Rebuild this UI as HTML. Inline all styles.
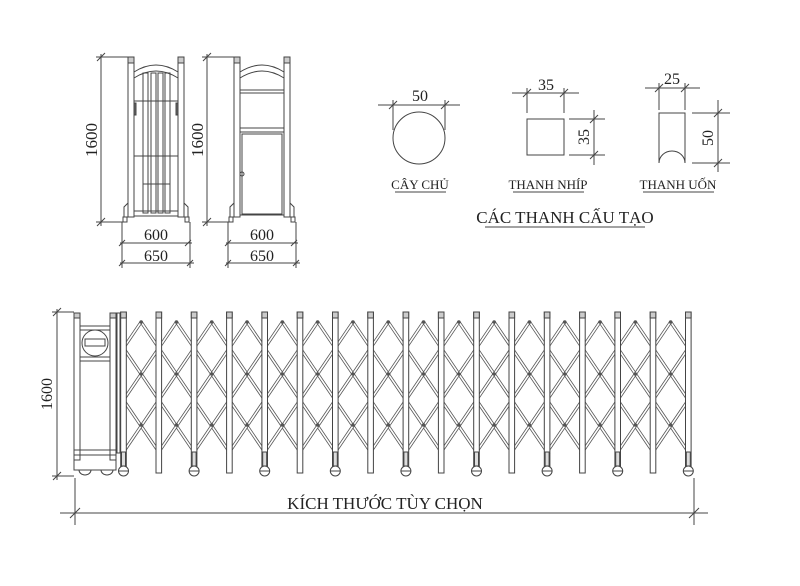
<!DOCTYPE html>
<html><head><meta charset="utf-8"><style>
html,body{margin:0;padding:0;background:#fff}
svg{display:block}
text{font-family:"Liberation Serif",serif;fill:#222}
</style></head><body>
<svg id="s" width="800" height="586" viewBox="0 0 800 586" xmlns="http://www.w3.org/2000/svg" stroke="#444" fill="none" stroke-width="1">
<defs><clipPath id="lc"><rect x="122" y="318" width="568" height="136"/></clipPath></defs>
<g>
<line x1="101" y1="54" x2="101" y2="226"/><line x1="96" y1="57" x2="130" y2="57"/><line x1="96" y1="222" x2="125" y2="222"/>
<line x1="97" y1="61" x2="105" y2="53"/><line x1="97" y1="226" x2="105" y2="218"/>
<text x="97" y="140" font-size="17" transform="rotate(-90 97 140)" text-anchor="middle" stroke="none">1600</text>
<rect x="128" y="57" width="6" height="160"/><rect x="178" y="57" width="6" height="160"/>
<rect x="128" y="57" width="6" height="6" fill="#ccc"/><rect x="178" y="57" width="6" height="6" fill="#ccc"/>
<path d="M134 72 Q156 58 178 72 M134 78 Q156 64 178 78"/>
<rect x="143" y="73" width="5" height="140"/><rect x="151" y="73" width="5" height="140"/><rect x="158" y="73" width="5" height="140"/><rect x="165" y="73" width="5" height="140"/>
<line x1="134" y1="101" x2="178" y2="101"/><line x1="134" y1="156" x2="178" y2="156"/><line x1="143" y1="184" x2="170" y2="184"/><line x1="134" y1="211" x2="178" y2="211"/><line x1="134" y1="216" x2="178" y2="216"/>
<rect x="134" y="103" width="2" height="12" fill="#666"/><rect x="176" y="103" width="2" height="12" fill="#666"/>
<path d="M128 203 L124 207 L124 217 L128 217 M184 203 L188 207 L188 217 L184 217"/>
<rect x="123" y="217" width="4" height="5"/><rect x="185" y="217" width="4" height="5"/>
<line x1="122" y1="222" x2="122" y2="268"/><line x1="190" y1="222" x2="190" y2="268"/>
<line x1="120" y1="243" x2="192" y2="243"/><line x1="120" y1="263" x2="194" y2="263"/>
<line x1="119" y1="246" x2="125" y2="240"/><line x1="185" y1="246" x2="191" y2="240"/>
<line x1="119" y1="266" x2="125" y2="260"/><line x1="187" y1="266" x2="193" y2="260"/>
<text x="156" y="240" font-size="16" text-anchor="middle" stroke="none">600</text>
<text x="156" y="261" font-size="16" text-anchor="middle" stroke="none">650</text>
</g>
<g>
<line x1="207" y1="54" x2="207" y2="226"/><line x1="202" y1="57" x2="236" y2="57"/><line x1="202" y1="222" x2="231" y2="222"/>
<line x1="203" y1="61" x2="211" y2="53"/><line x1="203" y1="226" x2="211" y2="218"/>
<text x="203" y="140" font-size="17" transform="rotate(-90 203 140)" text-anchor="middle" stroke="none">1600</text>
<rect x="234" y="57" width="6" height="160"/><rect x="284" y="57" width="6" height="160"/>
<rect x="234" y="57" width="6" height="6" fill="#ccc"/><rect x="284" y="57" width="6" height="6" fill="#ccc"/>
<path d="M240 72 Q262 58 284 72 M240 78 Q262 64 284 78"/>
<path d="M240 90 H284 M240 93 H284 M240 128 H284 M240 132 H284 M240 215 H284"/>
<rect x="242" y="134" width="40" height="80"/>
<circle cx="242" cy="174" r="2"/>
<path d="M234 203 L230 207 L230 217 L234 217 M290 203 L294 207 L294 217 L290 217"/>
<rect x="229" y="217" width="4" height="5"/><rect x="291" y="217" width="4" height="5"/>
<line x1="228" y1="222" x2="228" y2="268"/><line x1="296" y1="222" x2="296" y2="268"/>
<line x1="226" y1="243" x2="298" y2="243"/><line x1="226" y1="263" x2="300" y2="263"/>
<line x1="225" y1="246" x2="231" y2="240"/><line x1="291" y1="246" x2="297" y2="240"/>
<line x1="225" y1="266" x2="231" y2="260"/><line x1="293" y1="266" x2="299" y2="260"/>
<text x="262" y="240" font-size="16" text-anchor="middle" stroke="none">600</text>
<text x="262" y="261" font-size="16" text-anchor="middle" stroke="none">650</text>
</g>
<g>
<line x1="378" y1="105" x2="460" y2="105"/><line x1="393" y1="100" x2="393" y2="130"/><line x1="445" y1="100" x2="445" y2="130"/>
<line x1="389" y1="109" x2="397" y2="101"/><line x1="441" y1="109" x2="449" y2="101"/>
<text x="420" y="101" font-size="16" text-anchor="middle" stroke="none">50</text>
<circle cx="419" cy="138" r="26"/>
<text x="420" y="189" font-size="13" text-anchor="middle" stroke="none">CÂY CHỦ</text><line x1="395" y1="192" x2="446" y2="192"/>
<line x1="512" y1="93" x2="579" y2="93"/><line x1="527" y1="88" x2="527" y2="113"/><line x1="564" y1="88" x2="564" y2="113"/>
<line x1="523" y1="97" x2="531" y2="89"/><line x1="560" y1="97" x2="568" y2="89"/>
<text x="546" y="90" font-size="16" text-anchor="middle" stroke="none">35</text>
<rect x="527" y="119" width="37" height="36"/>
<line x1="569" y1="119" x2="605" y2="119"/><line x1="569" y1="155" x2="605" y2="155"/><line x1="594" y1="110" x2="594" y2="165"/>
<line x1="590" y1="123" x2="598" y2="115"/><line x1="590" y1="159" x2="598" y2="151"/>
<text x="589" y="137" font-size="16" transform="rotate(-90 589 137)" text-anchor="middle" stroke="none">35</text>
<text x="548" y="189" font-size="13" text-anchor="middle" stroke="none">THANH NHÍP</text><line x1="513" y1="192" x2="584" y2="192"/>
<line x1="645" y1="88" x2="700" y2="88"/><line x1="659" y1="83" x2="659" y2="110"/><line x1="685" y1="83" x2="685" y2="110"/>
<line x1="655" y1="92" x2="663" y2="84"/><line x1="681" y1="92" x2="689" y2="84"/>
<text x="672" y="84" font-size="16" text-anchor="middle" stroke="none">25</text>
<path d="M659 113 H685 V163 A13 12 0 0 0 659 163 Z"/>
<line x1="692" y1="113" x2="730" y2="113"/><line x1="692" y1="163" x2="730" y2="163"/><line x1="718" y1="100" x2="718" y2="172"/>
<line x1="714" y1="117" x2="722" y2="109"/><line x1="714" y1="167" x2="722" y2="159"/>
<text x="713" y="138" font-size="16" transform="rotate(-90 713 138)" text-anchor="middle" stroke="none">50</text>
<text x="678" y="189" font-size="13" text-anchor="middle" stroke="none">THANH UỐN</text><line x1="643" y1="192" x2="714" y2="192"/>
<text x="565" y="223" font-size="17" text-anchor="middle" stroke="none">CÁC THANH CẤU TẠO</text><line x1="485" y1="227" x2="645" y2="227"/>
</g>
<g id="gate">
<line x1="57" y1="309" x2="57" y2="480"/><line x1="52" y1="312" x2="74" y2="312"/><line x1="52" y1="476" x2="74" y2="476"/>
<line x1="53" y1="316" x2="61" y2="308"/><line x1="53" y1="480" x2="61" y2="472"/>
<text x="52" y="394" font-size="16" transform="rotate(-90 52 394)" text-anchor="middle" stroke="none">1600</text>
<rect x="74" y="313" width="6" height="147"/><rect x="110" y="313" width="6" height="147"/>
<rect x="74" y="313" width="6" height="5" fill="#ccc"/><rect x="110" y="313" width="6" height="5" fill="#ccc"/>
<rect x="80" y="326" width="30" height="124"/><line x1="80" y1="330" x2="110" y2="330"/><line x1="80" y1="357" x2="110" y2="357"/><line x1="80" y1="361" x2="110" y2="361"/>
<circle cx="95" cy="343" r="13"/><rect x="85" y="339" width="20" height="7"/>
<rect x="74" y="450" width="42" height="20"/><line x1="74" y1="455" x2="116" y2="455"/>
<path d="M79 470 A6 5 0 0 0 91 470 M101 470 A6 5 0 0 0 113 470"/>
<rect x="117" y="313" width="3" height="140"/>
<line x1="75" y1="478" x2="75" y2="525"/><line x1="694" y1="478" x2="694" y2="525"/>
<line x1="60" y1="513" x2="708" y2="513"/>
<line x1="70" y1="518" x2="80" y2="508"/><line x1="689" y1="518" x2="699" y2="508"/>
<text x="385" y="509" font-size="17" text-anchor="middle" stroke="none">KÍCH THƯỚC TÙY CHỌN</text>
<g id="lat" clip-path="url(#lc)"></g>
<g id="posts"></g>
</g>
</svg>
<script>
var ns="http://www.w3.org/2000/svg",lat=document.getElementById('lat'),posts=document.getElementById('posts');
function el(p,t,a){var e=document.createElementNS(ns,t);for(var k in a)e.setAttribute(k,a[k]);p.appendChild(e);return e}
var P=35.3,x0=123.5,dx=P/2,dy=26;
for(var i=-4;i<20;i++){var xm=x0+P*i+dx;
 [1,-1].forEach(function(s){var x2=xm+s*dx*5.3,y2=322+dy*5.3;
  el(lat,'line',{x1:xm,y1:322,x2:x2,y2:y2,stroke:'#555','stroke-width':3.2});
  el(lat,'line',{x1:xm,y1:322,x2:x2,y2:y2,stroke:'#fff','stroke-width':1.6});});}
for(var i=0;i<16;i++){var xm=x0+P*i+dx;[322,374,425].forEach(function(y){el(lat,'circle',{cx:xm,cy:y,r:1.8,fill:'#555',stroke:'none'})});}
for(var i=0;i<17;i++){var x=x0+P*i;
 el(posts,'rect',{x:x-2.8,y:312,width:5.6,height:161,fill:'#fff'});
 el(posts,'rect',{x:x-2.8,y:312,width:5.6,height:6,fill:'#ccc'});
 if(i%2==0){el(posts,'rect',{x:x-2,y:452,width:4,height:14,fill:'#ddd'});el(posts,'circle',{cx:x,cy:471,r:5,fill:'#fff'});el(posts,'line',{x1:x-5,y1:471,x2:x+5,y2:471});}}
</script>
</body></html>
